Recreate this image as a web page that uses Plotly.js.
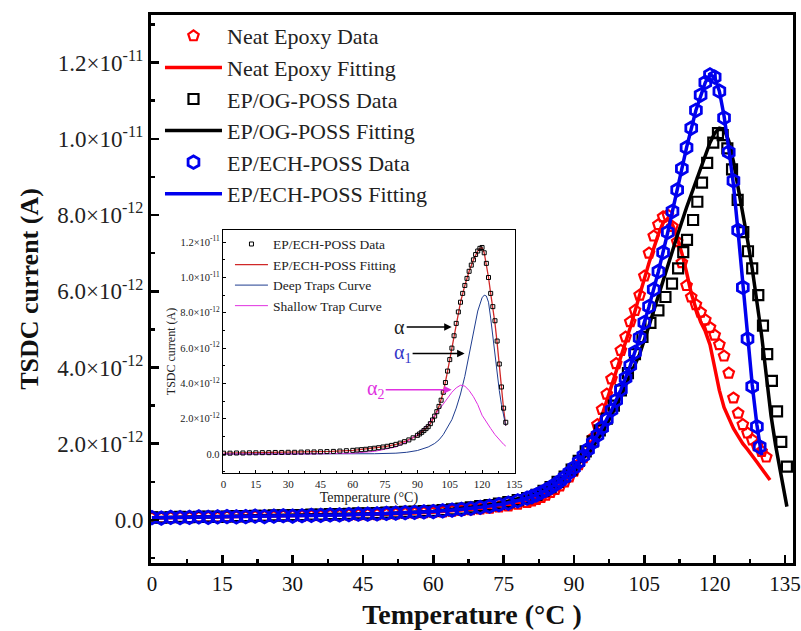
<!DOCTYPE html>
<html><head><meta charset="utf-8">
<script src="https://cdn.plot.ly/plotly-3.0.1.min.js"></script>
<style>html,body{margin:0;padding:0;background:#fff}#chart{width:801px;height:631px}</style>
</head><body><div id="chart"></div><script>
// ---- main chart data (current in units of 1e-12 A) ----
const xLow = [0,2,4,6,8,10,12,14,16,18,20,22,24,26,28,30,32,34,36,38,40,42,44,46,48,50,52,54,56,58,60,62,64,66,68,70,72,74,76,78,80];

const neatDataX = xLow.concat([81,82,83,84,85,86,87,88,89,90,91,92,93,94,95,96,97,98,99,100,101,102,103,104,105,106,107,108,109,110,111,112,113,114,115,116,117,118,119,120,121,122,123,124,125,126,127,128,129,130,131]);
const neatDataY = [0.05,0.05,0.06,0.06,0.06,0.07,0.07,0.07,0.08,0.08,0.08,0.09,0.09,0.09,0.10,0.10,0.10,0.11,0.11,0.12,0.12,0.13,0.13,0.14,0.14,0.15,0.16,0.17,0.18,0.19,0.20,0.21,0.23,0.25,0.27,0.29,0.31,0.34,0.37,0.41,0.46,
  0.50,0.54,0.59,0.65,0.72,0.80,0.89,1.0,1.13,1.28,
  1.45,1.63,1.87,2.15,2.5,2.9,3.3,3.7,4.1,4.45,
  4.8,5.2,5.5,5.9,6.4,7.0,7.45,7.75,7.95,8.0,
  7.7,7.3,6.75,6.15,5.85,5.65,5.45,5.25,5.05,4.85,
  4.6,4.3,3.85,3.2,2.8,2.5,2.28,2.1,1.95,1.8,1.65];

const neatFitX = [0,10,20,30,40,50,60,65,70,75,80,82,84,86,88,90,92,94,96,98,100,102,104,106,108,109,110,111,112,113,114,115,116,117,118,119,120,121,122,123,124,125,126,127,128,129,130,131,131.8];
const neatFitY = [0.05,0.07,0.08,0.10,0.12,0.15,0.2,0.25,0.3,0.38,0.5,0.58,0.68,0.8,1.05,1.3,1.65,2.1,2.75,3.5,4.3,5.05,5.9,6.75,7.5,7.8,7.9,7.75,7.4,7.0,6.5,5.95,5.55,5.2,4.95,4.6,4.0,3.4,2.95,2.65,2.4,2.2,2.0,1.85,1.7,1.52,1.35,1.18,1.05];

const ogDataX = xLow.concat([82,83.5,85,86.5,88,89.5,91,92.5,94,95.5,97,98.5,100,101.5,103,104.6,106.3,108,109.5,110.9,112.2,113.3,114.1,115.4,116.3,117.3,118.4,119.7,120.7,121.7,122.7,123.7,124.9,126.1,127.1,128,129.3,130.3,131.2,132.2,133.3,134.2,135.4]);
const ogDataY = [0.07,0.06,0.07,0.08,0.07,0.08,0.09,0.08,0.09,0.10,0.10,0.11,0.11,0.12,0.12,0.13,0.13,0.14,0.14,0.15,0.15,0.16,0.17,0.17,0.18,0.19,0.20,0.21,0.22,0.23,0.24,0.26,0.28,0.30,0.33,0.36,0.39,0.43,0.47,0.52,0.57,
  0.66,0.76,0.86,1.0,1.14,1.32,1.55,1.8,2.06,2.35,2.66,3.0,3.4,3.85,4.35,
  4.8,5.17,5.5,5.85,6.2,6.6,7.03,7.35,7.87,8.35,8.85,9.37,9.9,10.15,
  10.1,9.75,9.2,8.4,7.55,7.05,6.6,5.9,5.1,4.35,3.65,2.85,2.05,1.4];

const ogFitX = [0,10,20,30,40,50,60,65,70,75,80,82,84,86,88,90,92,94,96,98,100,102,104,106,108,110,112,114,116,118,119,120,121,122,123,124,125,126,127,128,129,130,131,132,133,134,135,135.4];
const ogFitY = [0.06,0.08,0.09,0.11,0.13,0.17,0.23,0.29,0.36,0.46,0.62,0.72,0.84,0.98,1.15,1.36,1.62,1.92,2.3,2.75,3.25,3.8,4.35,5.1,5.9,6.65,7.45,8.2,8.9,9.6,9.9,10.15,10.28,10.25,9.95,9.4,8.75,8.05,7.35,6.6,5.8,4.85,3.8,2.75,1.95,1.25,0.6,0.35];

const echDataX = xLow.concat([81,82,83,84,85,86,87,88,89,90,91,92,93,94,95,96,97,98,99,100,101,102,103,104,105,106,107,108,109,110,111,112,113,114,115,116,117,118,119,120,121,122,123,124,125,126,127,128,129,129.6]);
const echDataY = [0.06,0.05,0.07,0.06,0.07,0.08,0.07,0.08,0.09,0.08,0.09,0.10,0.09,0.10,0.11,0.10,0.11,0.12,0.12,0.13,0.13,0.14,0.15,0.15,0.16,0.17,0.18,0.19,0.20,0.21,0.22,0.24,0.26,0.28,0.30,0.33,0.36,0.40,0.44,0.50,0.57,
  0.61,0.66,0.72,0.78,0.85,0.93,1.02,1.12,1.24,1.37,
  1.52,1.68,1.85,2.03,2.22,2.42,2.64,2.88,3.14,3.42,
  3.72,4.05,4.40,4.78,5.18,5.60,6.05,6.52,7.02,7.55,
  8.10,8.66,9.22,9.77,10.28,10.75,11.15,11.48,11.68,11.62,
  11.25,10.55,9.65,8.9,7.6,6.1,4.75,3.5,2.45,1.92];

const echFitX = [0,10,20,30,40,50,60,65,70,75,80,82,84,86,88,90,92,94,96,98,100,102,104,106,108,110,112,114,116,117,118,119,120,121,122,123,124,125,126,127,128,129,130];
const echFitY = [0.06,0.08,0.09,0.10,0.13,0.17,0.22,0.27,0.33,0.42,0.57,0.66,0.78,0.93,1.12,1.37,1.68,2.03,2.42,2.88,3.42,4.05,4.78,5.60,6.52,7.55,8.66,9.77,10.75,11.15,11.48,11.68,11.62,11.25,10.6,9.75,8.8,7.55,6.15,4.8,3.55,2.5,1.7];

// ---- inset data ----
const insDataX = [0,3,6,9,12,15,18,21,24,27,30,33,36,39,42,45,48,51,54,57,60,62,64,66,68,70,72,74,76,78,80,82,84,86,88,90,91,92,93,94,95,96,97,98,99,100,101,102,103,104,105,106,107,108,109,110,111,112,113,114,115,116,117,118,119,120,121,122,123,124,125,126,127,128,129,130,131];
const insDataY = [0.05,0.05,0.06,0.06,0.07,0.07,0.08,0.08,0.09,0.09,0.1,0.1,0.11,0.12,0.12,0.13,0.14,0.15,0.17,0.19,0.21,
  0.23,0.25,0.27,0.3,0.33,0.36,0.4,0.44,0.49,0.55,0.62,0.7,0.8,0.92,1.06,
  1.14,1.23,1.33,1.44,1.55,1.72,1.93,2.15,2.4,2.7,
  3.05,3.5,4.05,4.7,5.35,6.0,6.7,7.4,8.05,8.6,
  9.1,9.55,9.95,10.35,10.7,11.0,11.3,11.5,11.65,11.7,
  11.4,10.8,10.0,9.1,8.35,7.55,6.4,5.1,3.8,2.6,1.8];
const insFitX = [0,10,20,30,40,50,60,65,70,75,80,85,90,92,94,96,98,100,102,104,106,108,110,112,114,116,118,119,120,121,122,123,124,125,126,127,128,129,130,131];
const insFitY = [0.05,0.07,0.08,0.1,0.12,0.15,0.21,0.27,0.33,0.42,0.55,0.75,1.06,1.23,1.44,1.72,2.15,2.7,3.5,4.7,6.0,7.4,8.6,9.55,10.35,11.0,11.5,11.65,11.7,11.4,10.8,10.0,9.1,8.3,7.4,6.3,5.0,3.75,2.55,1.6];
const deepX = [0,20,40,60,70,80,85,90,95,98,100,102,104,106,108,110,112,114,116,118,120,121,122,123,124,125,126,127,128,129,130,131];
const deepY = [0,0,0,0.01,0.02,0.05,0.1,0.2,0.4,0.6,0.8,1.1,1.5,1.95,2.6,3.4,4.4,5.6,6.9,8.1,8.85,9.0,8.95,8.6,7.7,6.6,5.5,4.5,3.6,2.8,2.1,1.6];
const shallowX = [0,20,40,60,70,80,85,90,95,100,103,106,108,110,112,114,116,118,120,122,124,126,128,130,131];
const shallowY = [0,0,0.01,0.05,0.15,0.4,0.7,1.1,1.7,2.5,3.0,3.5,3.75,3.9,3.85,3.6,3.25,2.8,2.2,1.8,1.45,1.1,0.8,0.55,0.45];

// ---- tick labels ----
const xTicks = [0,15,30,45,60,75,90,105,120,135];
const yTickVals = [0,2,4,6,8,10,12];
const yTickText = ["0.0","2.0×10<sup>-12</sup>","4.0×10<sup>-12</sup>","6.0×10<sup>-12</sup>","8.0×10<sup>-12</sup>","1.0×10<sup>-11</sup>","1.2×10<sup>-11</sup>"];
const legendNames = ["Neat Epoxy Data","Neat Epoxy Fitting","EP/OG-POSS Data","EP/OG-POSS Fitting","EP/ECH-POSS Data","EP/ECH-POSS Fitting"];
const insetNames = ["EP/ECH-POSS Data","EP/ECH-POSS Fitting","Deep Traps Curve","Shallow Trap Curve"];

const FONT = "Liberation Serif, serif";
const RED = "#ff0000", BLK = "#000000", BLU = "#0000ee";

const traces = [
  {x: neatFitX, y: neatFitY, mode:'lines', name: legendNames[1], legendrank: 2, line:{color:RED, width:3.5}},
  {x: neatDataX, y: neatDataY, mode:'markers', name: legendNames[0], legendrank: 1, marker:{symbol:'pentagon-open', size:11, color:RED, line:{width:2.2, color:RED}}},
  {x: ogFitX, y: ogFitY, mode:'lines', name: legendNames[3], legendrank: 4, line:{color:BLK, width:3.5}},
  {x: ogDataX, y: ogDataY, mode:'markers', name: legendNames[2], legendrank: 3, marker:{symbol:'square-open', size:10, color:BLK, line:{width:2.2, color:BLK}}},
  {x: echFitX, y: echFitY, mode:'lines', name: legendNames[5], legendrank: 6, line:{color:BLU, width:3.5}},
  {x: echDataX, y: echDataY, mode:'markers', name: legendNames[4], legendrank: 5, marker:{symbol:'hexagon-open', size:12.5, color:BLU, line:{width:2.8, color:BLU}}},
  // inset
  {x: insFitX, y: insFitY, xaxis:'x2', yaxis:'y2', mode:'lines', name: insetNames[1], legend:'legend2', legendrank: 2, line:{color:'#d02828', width:1.3}},
  {x: deepX, y: deepY, xaxis:'x2', yaxis:'y2', mode:'lines', name: insetNames[2], legend:'legend2', legendrank: 3, line:{color:'#1f3d8f', width:1}},
  {x: shallowX, y: shallowY, xaxis:'x2', yaxis:'y2', mode:'lines', name: insetNames[3], legend:'legend2', legendrank: 4, line:{color:'#e030e0', width:1}},
  {x: insDataX, y: insDataY, xaxis:'x2', yaxis:'y2', mode:'markers', name: insetNames[0], legend:'legend2', legendrank: 1, marker:{symbol:'square-open', size:4, color:BLK, line:{width:1, color:BLK}}}
];

const layout = {
  width: 801, height: 631,
  margin: {l:151, r:8, t:15, b:68},
  paper_bgcolor:'#fff', plot_bgcolor:'#fff',
  font: {family: FONT, color:'#000'},
  showlegend: true,
  legend: {x:0.014, y:1.0, xanchor:'left', yanchor:'top', bgcolor:'rgba(0,0,0,0)', font:{family:FONT, size:22, color:'#222'}, itemwidth:57, tracegroupgap:0, traceorder:'normal'},
  legend2: {x:0.123, y:0.61, xanchor:'left', yanchor:'top', bgcolor:'rgba(0,0,0,0)', font:{family:FONT, size:13.5, color:'#222'}, itemwidth:33, tracegroupgap:0, traceorder:'normal'},
  xaxis: {
    domain:[0,1], range:[-0.2,136.7], tickmode:'array', tickvals: xTicks, ticklabeloverflow:'allow',
    ticks:'inside', ticklen:8, tickwidth:2.5, tickcolor:'#000',
    minor:{tickmode:'linear', tick0:0, dtick:7.5, ticks:'inside', ticklen:4, tickwidth:2.5, tickcolor:'#000'},
    showline:true, linewidth:3, linecolor:'#000', mirror:true, showgrid:false, zeroline:false,
    tickfont:{family:FONT, size:21, color:'#111'},
    title:{text:'Temperature (°C )', font:{family:FONT, size:28, weight:'bold', color:'#111'}, standoff:10}
  },
  yaxis: {
    domain:[0,1], range:[-1.13,13.25], tickmode:'array', tickvals: yTickVals, ticktext: yTickText, ticklabeloverflow:'allow',
    ticks:'inside', ticklen:8, tickwidth:2.5, tickcolor:'#000',
    minor:{tickmode:'linear', tick0:0, dtick:1, ticks:'inside', ticklen:4, tickwidth:2.5, tickcolor:'#000'},
    showline:true, linewidth:3, linecolor:'#000', mirror:true, showgrid:false, zeroline:false,
    tickfont:{family:FONT, size:23, color:'#222'},
    title:{text:'TSDC current (A)', font:{family:FONT, size:26, weight:'bold', color:'#111'}, standoff:12}
  },
  xaxis2: {
    domain:[0.112,0.567], anchor:'y2', range:[-0.3,135.3], tickmode:'array', tickvals: xTicks, ticklabeloverflow:'allow',
    ticks:'inside', ticklen:3, tickwidth:1, tickcolor:'#000',
    minor:{tickmode:'linear', tick0:0, dtick:7.5, ticks:'inside', ticklen:2, tickwidth:1, tickcolor:'#000'},
    showline:true, linewidth:1.2, linecolor:'#000', mirror:true, showgrid:false, zeroline:false,
    tickfont:{family:FONT, size:11, color:'#222'},
    title:{text:'Temperature (°C)', font:{family:FONT, size:14, color:'#222'}, standoff:2}
  },
  yaxis2: {
    domain:[0.164,0.608], anchor:'x2', range:[-1.08,12.7], tickmode:'array', tickvals: yTickVals, ticktext: yTickText, ticklabeloverflow:'allow',
    ticks:'inside', ticklen:3, tickwidth:1, tickcolor:'#000',
    minor:{tickmode:'linear', tick0:0, dtick:1, ticks:'inside', ticklen:2, tickwidth:1, tickcolor:'#000'},
    showline:true, linewidth:1.2, linecolor:'#000', mirror:true, showgrid:false, zeroline:false,
    tickfont:{family:FONT, size:10.5, color:'#222'},
    title:{text:'TSDC current (A)', font:{family:FONT, size:12, color:'#222'}, standoff:2}
  },
  annotations: [
    {xref:'x2', yref:'y2', x:105.9, y:7.2, ax:-52, ay:0, text:'α', showarrow:true, arrowhead:2, arrowsize:1, arrowwidth:1.5, arrowcolor:'#000', font:{family:FONT, size:20, color:'#222'}},
    {xref:'x2', yref:'y2', x:111.9, y:5.7, ax:-62, ay:0, text:'α<sub>1</sub>', showarrow:true, arrowhead:2, arrowsize:1, arrowwidth:1.5, arrowcolor:'#000', font:{family:FONT, size:20, color:'#3535c8'}},
    {xref:'x2', yref:'y2', x:105.9, y:3.64, ax:-76, ay:0, text:'α<sub>2</sub>', showarrow:true, arrowhead:2, arrowsize:1, arrowwidth:1.5, arrowcolor:'#e030e0', font:{family:FONT, size:20, color:'#e030e0'}}
  ]
};

Plotly.newPlot('chart', traces, layout, {displayModeBar:false, staticPlot:true});
</script></body></html>
